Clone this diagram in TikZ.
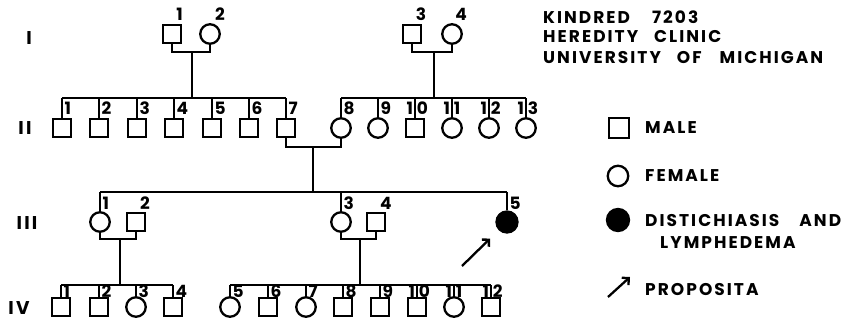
\documentclass[tikz,border=0pt]{standalone}
\usepackage{fontspec}
\newfontfamily\lt[LetterSpace=12]{Poppins}
\newfontfamily\pednum[LetterSpace=4]{Poppins}
\usetikzlibrary{arrows.meta}
\tikzset{
  ped/.style={line width=2.3pt, line cap=butt, line join=miter},
  male/.style={draw, rectangle, minimum size=18pt, inner sep=0pt, line width=2.3pt},
  female/.style={draw, circle, minimum size=19.5pt, inner sep=0pt, line width=2.3pt},
  affected/.style={female, fill=black, minimum size=21pt},
  num/.style={inner sep=0pt, font=\pednum\bfseries\fontsize{17}{17}\selectfont},
  gen/.style={inner sep=0pt, font=\lt\bfseries\fontsize{18.5}{18.5}\selectfont},
  txt/.style={inner sep=0pt, anchor=west, font=\lt\bfseries\fontsize{17}{17}\selectfont},
  arr/.style={line width=2.3pt, -{Straight Barb[length=5pt,width=10pt,line width=2.3pt]}},
}
\newcommand{\twod}[2]{\makebox[0pt][r]{#1}\hspace{4pt}\makebox[0pt][l]{#2}}
\begin{document}
\begin{tikzpicture}[x=1pt,y=-1pt]
\useasboundingbox (0,0) rectangle (844,330);
% generation labels
\node[gen] (gI) at (29,38) {I};
\node[gen] (gII) at (25,128) {II};
\node[gen] (gIII) at (27,223) {III};
\node[gen] (gIV) at (19,308) {IV};
% ---------- Generation I
\node[male] (I1) at (172,34) {};
\node[female] (I2) at (210,34) {};
\node[male] (I3) at (412,34) {};
\node[female] (I4) at (452,34) {};
\node[num] (lI1) at (179.5,14) {1};
\node[num] (lI2) at (220,14) {2};
\node[num] (lI3) at (421,14) {3};
\node[num] (lI4) at (461,14) {4};
\coordinate (mI1) at (192,52);
\coordinate (sI1) at (192,98);
\coordinate (mI2) at (434,52);
\coordinate (sI2) at (434,98);
\draw[ped] (I1.south) |- (mI1) -| (I2.south);
\draw[ped] (I3.south) |- (mI2) -| (I4.south);
\draw[ped] (mI1) -- (sI1);
\draw[ped] (mI2) -- (sI2);
% ---------- Generation II
\foreach \n/\x in {1/62,2/99,3/137,4/174,5/212,6/249,7/286,10/415}
  \node[male] (II\n) at (\x,128) {};
\foreach \n/\x in {8/341,9/378,11/452,12/489,13/526}
  \node[female] (II\n) at (\x,128) {};
\draw[ped] (II1.north |- sI1) -- (II7.north |- sI1);
\draw[ped] (II8.north |- sI2) -- (II13.north |- sI2);
\foreach \n in {1,...,7} \draw[ped] (II\n.north) -- (II\n.north |- sI1);
\foreach \n in {8,...,13} \draw[ped] (II\n.north) -- (II\n.north |- sI2);
\foreach \n in {1,...,9}
  \node[num, anchor=west] (lII\n) at ([xshift=2.5pt]II\n.north |- 0,108) {\n};
\node[num] (lII10) at (II10.north |- 0,108) {\twod{1}{0}};
\node[num] (lII11) at (II11.north |- 0,108) {\twod{1}{1}};
\node[num] (lII12) at (II12.north |- 0,108) {\twod{1}{2}};
\node[num] (lII13) at (II13.north |- 0,108) {\twod{1}{3}};
\coordinate (mII) at (313,147);
\coordinate (sII) at (313,192);
\draw[ped] (II7.south) |- (mII) -| (II8.south);
\draw[ped] (mII) -- (sII);
% ---------- Generation III
\node[female] (III1) at (100,222) {};
\node[male] (III2) at (136,222) {};
\node[female] (III3) at (341,222) {};
\node[male] (III4) at (376,222) {};
\node[affected] (III5) at (507,222) {};
\draw[ped] (III1.north |- sII) -- (III5.north |- sII);
\foreach \n in {1,3,5} \draw[ped] (III\n.north) -- (III\n.north |- sII);
\node[num, anchor=west] (lIII1) at ([xshift=2.5pt]III1.north |- 0,203) {1};
\node[num] (lIII2) at (145,203) {2};
\node[num, anchor=west] (lIII3) at ([xshift=2.5pt]III3.north |- 0,203) {3};
\node[num] (lIII4) at (386,203) {4};
\node[num, anchor=west] (lIII5) at ([xshift=2.5pt]III5.north |- 0,203) {5};
\coordinate (mIII1) at (120,239);
\coordinate (sIII1) at (120,285);
\coordinate (mIII2) at (360,239);
\coordinate (sIII2) at (360,285);
\draw[ped] (III1.south) |- (mIII1) -| (III2.south);
\draw[ped] (III3.south) |- (mIII2) -| (III4.south);
\draw[ped] (mIII1) -- (sIII1);
\draw[ped] (mIII2) -- (sIII2);
\coordinate (pA) at (462,266);
\draw[arr, shorten >=12pt] (pA) -- (III5);
% ---------- Generation IV
\foreach \n/\x in {1/61,2/99,4/173,6/268,8/343,9/380,10/417,12/491}
  \node[male] (IV\n) at (\x,307) {};
\foreach \n/\x in {3/136,5/230,7/306,11/454}
  \node[female] (IV\n) at (\x,307) {};
\draw[ped] (IV1.north |- sIII1) -- (IV4.north |- sIII1);
\draw[ped] (IV5.north |- sIII2) -- (IV12.north |- sIII2);
\foreach \n in {1,...,4} \draw[ped] (IV\n.north) -- (IV\n.north |- sIII1);
\foreach \n in {5,...,12} \draw[ped] (IV\n.north) -- (IV\n.north |- sIII2);
\foreach \n in {1,...,9}
  \node[num, anchor=west] (lIV\n) at ([xshift=2.5pt]IV\n.north |- 0,291) {\n};
\node[num] (lIV10) at (IV10.north |- 0,291) {\twod{1}{0}};
\node[num] (lIV11) at (IV11.north |- 0,291) {\twod{1}{1}};
\node[num] (lIV12) at (IV12.north |- 0,291) {\twod{1}{2}};
% ---------- Title
\node[txt] (t1) at (543,17) {KINDRED\hspace{22pt}7203};
\node[txt] (t2) at (543,37) {HEREDITY\hspace{16pt}CLINIC};
\node[txt] (t3) at (543,58) {UNIVERSITY\hspace{16pt}OF\hspace{18pt}MICHIGAN};
% ---------- Legend
\node[male, minimum size=19.5pt] (LM) at (619,128) {};
\node[txt] (tM) at (645,128) {MALE};
\node[female, minimum size=20.5pt] (LF) at (618,176) {};
\node[txt] (tF) at (645,176) {FEMALE};
\node[affected, minimum size=22pt] (LA) at (618,220) {};
\node[txt] (tA) at (645,221) {DISTICHIASIS\hspace{20pt}AND};
\node[txt] (tA2) at (660,243) {LYMPHEDEMA};
\coordinate (LPa) at (608,297);
\coordinate (LPb) at (630,277);
\draw[arr] (LPa) -- (LPb);
\node[txt] (tP) at (645,290) {PROPOSITA};
\end{tikzpicture}
\end{document}
